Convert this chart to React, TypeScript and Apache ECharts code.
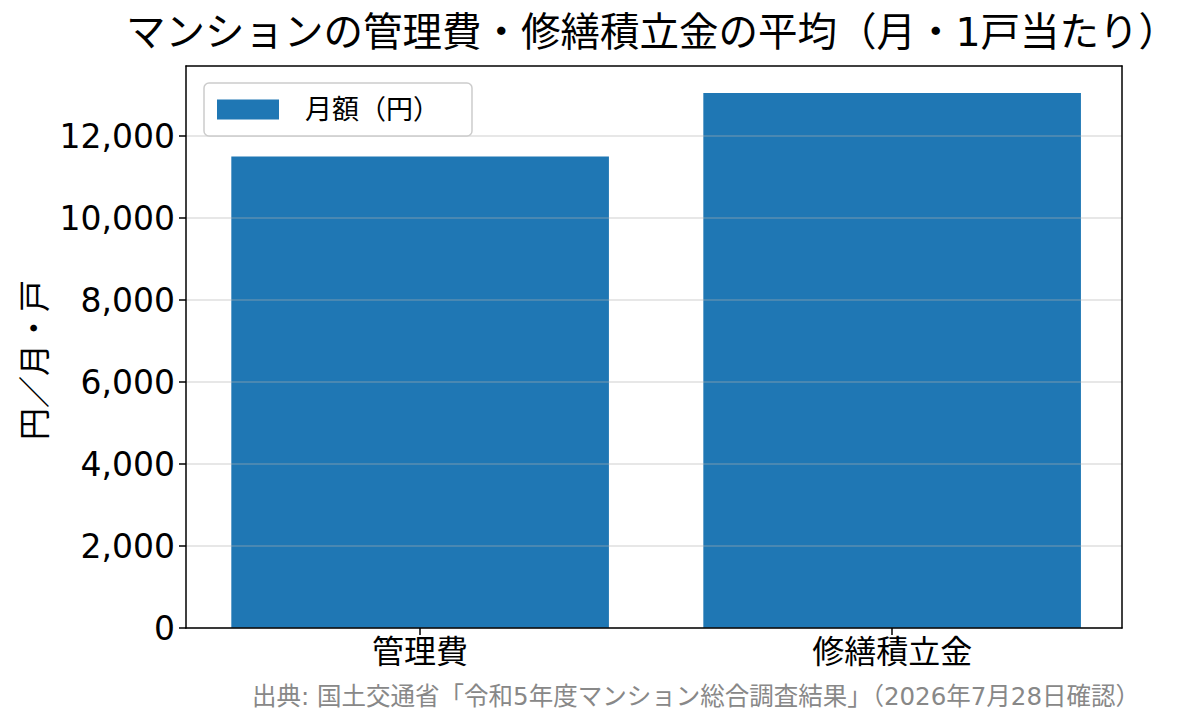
import React, { useEffect, useRef } from "react";
import * as echarts from "echarts";

const categories = ["管理費", "修繕積立金"];
const monthlyYen = [11503, 13054];
const seriesName = "月額（円）";
const titleText = "マンションの管理費・修繕積立金の平均（月・1戸当たり）";
const yAxisTitle = "円／月・戸";
const sourceText = "出典: 国土交通省「令和5年度マンション総合調査結果」（2026年7月28日確認）";
const yTicks = [0, 2000, 4000, 6000, 8000, 10000, 12000];
const xTicks = [0, 1];
const xMin = -0.496;
const xMax = 1.487;
const yMax = 13710;
const yInterval = 2000;

const FONT = "'DejaVu Sans', 'Noto Sans CJK JP', sans-serif";

export default function App() {
  const ref = useRef<HTMLDivElement>(null);
  useEffect(() => {
    document.body.style.margin = "0";
    const chart = echarts.init(ref.current!, null, { renderer: "svg" });
    const axisLineStyle = { color: "#000", width: 1.5 };
    const plotWidth = 1204 - 186 - 82;
    const barPx = (0.8 * plotWidth) / (xMax - xMin);
    chart.setOption({
      animation: false,
      backgroundColor: "#fff",
      textStyle: { fontFamily: FONT },
      title: {
        text: titleText,
        left: 647,
        top: 7,
        textAlign: "center",
        textStyle: { fontFamily: FONT, fontSize: 39.5, fontWeight: "normal", color: "#000" },
      },
      legend: {
        z: 10,
        left: 204,
        top: 83,
        orient: "vertical",
        data: [seriesName],
        itemWidth: 62,
        itemHeight: 20,
        padding: [13, 32, 13, 13],
        borderColor: "#cccccc",
        borderWidth: 1.5,
        borderRadius: 5,
        backgroundColor: "rgba(255,255,255,0.8)",
        textStyle: { fontFamily: FONT, fontSize: 27, color: "#000", padding: [0, 0, 0, 21] },
        icon: "rect",
      },
      grid: { left: 186, right: 82, top: 66, bottom: 97 },
      xAxis: [
        {
          type: "value",
          min: xMin,
          max: xMax,
          z: 4,
          axisLine: { show: true, onZero: false, lineStyle: axisLineStyle },
          axisTick: { show: true, length: 7, lineStyle: axisLineStyle, customValues: xTicks },
          axisLabel: {
            fontFamily: FONT,
            fontSize: 32,
            color: "#000",
            margin: 8,
            customValues: xTicks,
            formatter: (v: number) => categories[Math.round(v)] ?? "",
          },
          splitLine: { show: false },
        },
        {
          type: "value",
          min: xMin,
          max: xMax,
          position: "top",
          z: 4,
          axisLine: { show: true, onZero: false, lineStyle: axisLineStyle },
          axisTick: { show: false },
          axisLabel: { show: false },
          splitLine: { show: false },
        },
      ],
      yAxis: [
        {
          type: "value",
          min: 0,
          max: yMax,
          interval: yInterval,
          z: 3,
          axisLine: { show: true, onZero: false, lineStyle: axisLineStyle },
          axisTick: { show: true, length: 7, lineStyle: axisLineStyle, customValues: yTicks },
          axisLabel: {
            fontFamily: FONT,
            fontSize: 33,
            color: "#000",
            margin: 11,
            customValues: yTicks,
            formatter: (v: number) => (v % yInterval === 0 ? v.toLocaleString("en-US") : ""),
          },
          splitLine: { show: true, lineStyle: { color: "rgba(176,176,176,0.3)", width: 2 } },
        },
        {
          type: "value",
          min: 0,
          max: yMax,
          interval: yInterval,
          position: "right",
          z: 4,
          axisLine: { show: true, onZero: false, lineStyle: axisLineStyle },
          axisTick: { show: false },
          axisLabel: { show: false },
          splitLine: { show: false },
        },
      ],
      series: [
        {
          name: seriesName,
          type: "bar",
          xAxisIndex: 0,
          yAxisIndex: 0,
          data: monthlyYen.map((v, i) => [i, v]),
          barWidth: barPx,
          itemStyle: { color: "#1f77b4" },
        },
      ],
      graphic: [
        {
          type: "text",
          x: 35,
          y: 360,
          rotation: Math.PI / 2,
          style: {
            text: yAxisTitle,
            fontFamily: FONT,
            fontSize: 32,
            fill: "#000",
            textAlign: "center",
            textVerticalAlign: "middle",
          },
        },
        {
          type: "text",
          x: 1140,
          y: 696,
          style: {
            text: sourceText,
            fontFamily: FONT,
            fontSize: 24.5,
            fill: "#888888",
            textAlign: "right",
            textVerticalAlign: "middle",
          },
        },
      ],
    });
    return () => chart.dispose();
  }, []);
  return <div ref={ref} style={{ width: 1204, height: 725 }} />;
}
